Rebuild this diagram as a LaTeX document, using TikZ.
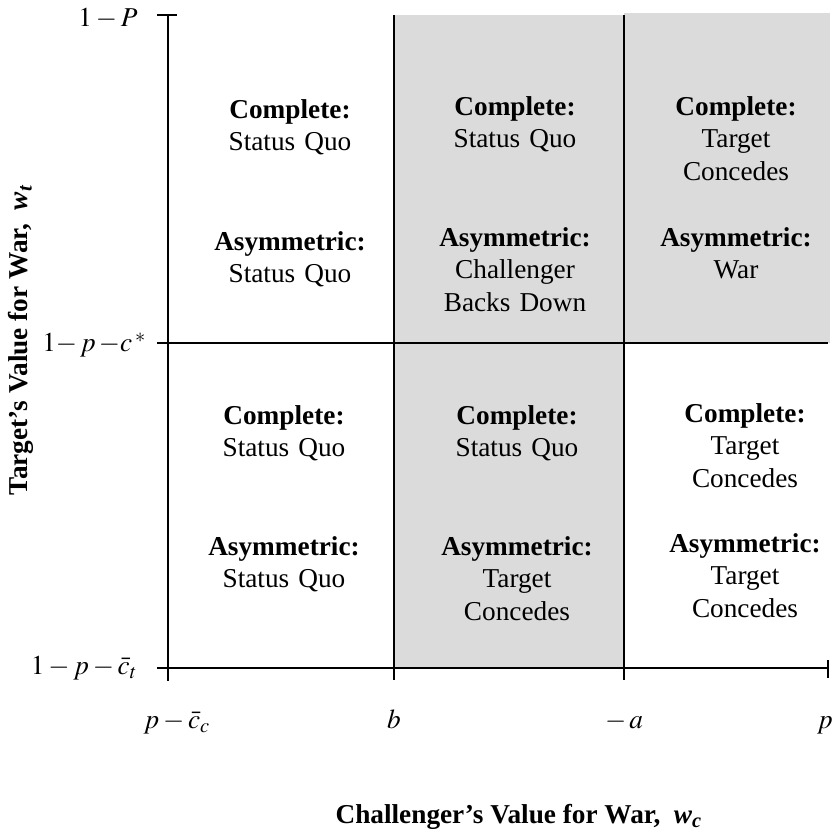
\documentclass[tikz,border=0pt]{standalone}
\usepackage{mathptmx}
\usepackage{fontspec}
\setmainfont{Liberation Serif}
\usetikzlibrary{positioning}

\begin{document}
\begin{tikzpicture}[
    x=0.44pt, y=-0.44pt,
    every node/.style={font=\fontsize{12}{14.3}\selectfont, inner sep=0pt},
    grid/.style={line width=0.8pt},
    shade/.style={fill=black!14},
    cell/.style={text width=80pt, align=center, anchor=base},
    ticklab/.style={anchor=east},
    xlab/.style={anchor=base},
    axistitle/.style={font=\fontsize{12}{14.3}\selectfont\bfseries}
]
\useasboundingbox (0,0) rectangle (839,834);

% ============ Shaded regions ============
\fill[shade] (394,15) rectangle (624,668);
\fill[shade] (624,13) rectangle (830,343);

% ============ Axes and cut lines ============
\draw[grid] (168,15) -- (168,681);
\draw[grid] (157,15) -- (177,15);
\draw[grid] (157,343) -- (828,343);
\draw[grid] (157,668) -- (828,668);
\draw[grid] (394,15) -- (394,680);
\draw[grid] (624,15) -- (624,680);
\draw[grid] (828,660) -- (828,678);

% Tick labels, vertical axis
\node[ticklab] (yP) at (138,19) {$1-P$};
\node[ticklab] (ycstar) at (147,345) {$1{-}\,p\,{-}c\,^*$};
\node[ticklab] (yct) at (138,668) {$1-p-\bar{c}_t$};

% Tick labels, horizontal axis
\node[xlab] (xcc) at (177,728) {$p-\bar{c}_c$};
\node[xlab] (xb) at (394,728) {$b$};
\node[xlab] (xa) at (624,728) {$-\,a$};
\node[xlab] (xp) at (825,728) {$p$};

% Axis titles
\node[axistitle, rotate=90] (ytitle) at (21,340) {Target's Value for War, \ \textit{w}\textsubscript{\textit{t}}};
\node[axistitle, anchor=base] (xtitle) at (519,823) {Challenger's Value for War, \ \textit{w}\textsubscript{\textit{c}}};

% ============ Upper row ============
\node[cell] (compUL) at (290,118) {\textbf{Complete:}\\Status Quo};
\node[cell] (asymUL) at (290,250) {\textbf{Asymmetric:}\\Status Quo};

\node[cell] (compUM) at (515,115) {\textbf{Complete:}\\Status Quo};
\node[cell] (asymUM) at (515,246) {\textbf{Asymmetric:}\\Challenger\\Backs Down};

\node[cell] (compUR) at (736,115) {\textbf{Complete:}\\Target\\Concedes};
\node[cell] (asymUR) at (736,246) {\textbf{Asymmetric:}\\War};

% ============ Lower row ============
\node[cell] (compLL) at (284,424) {\textbf{Complete:}\\Status Quo};
\node[cell] (asymLL) at (284,555) {\textbf{Asymmetric:}\\Status Quo};

\node[cell] (compLM) at (517,424) {\textbf{Complete:}\\Status Quo};
\node[cell] (asymLM) at (517,555) {\textbf{Asymmetric:}\\Target\\Concedes};

\node[cell] (compLR) at (745,422) {\textbf{Complete:}\\Target\\Concedes};
\node[cell] (asymLR) at (745,552) {\textbf{Asymmetric:}\\Target\\Concedes};

\end{tikzpicture}
\end{document}
